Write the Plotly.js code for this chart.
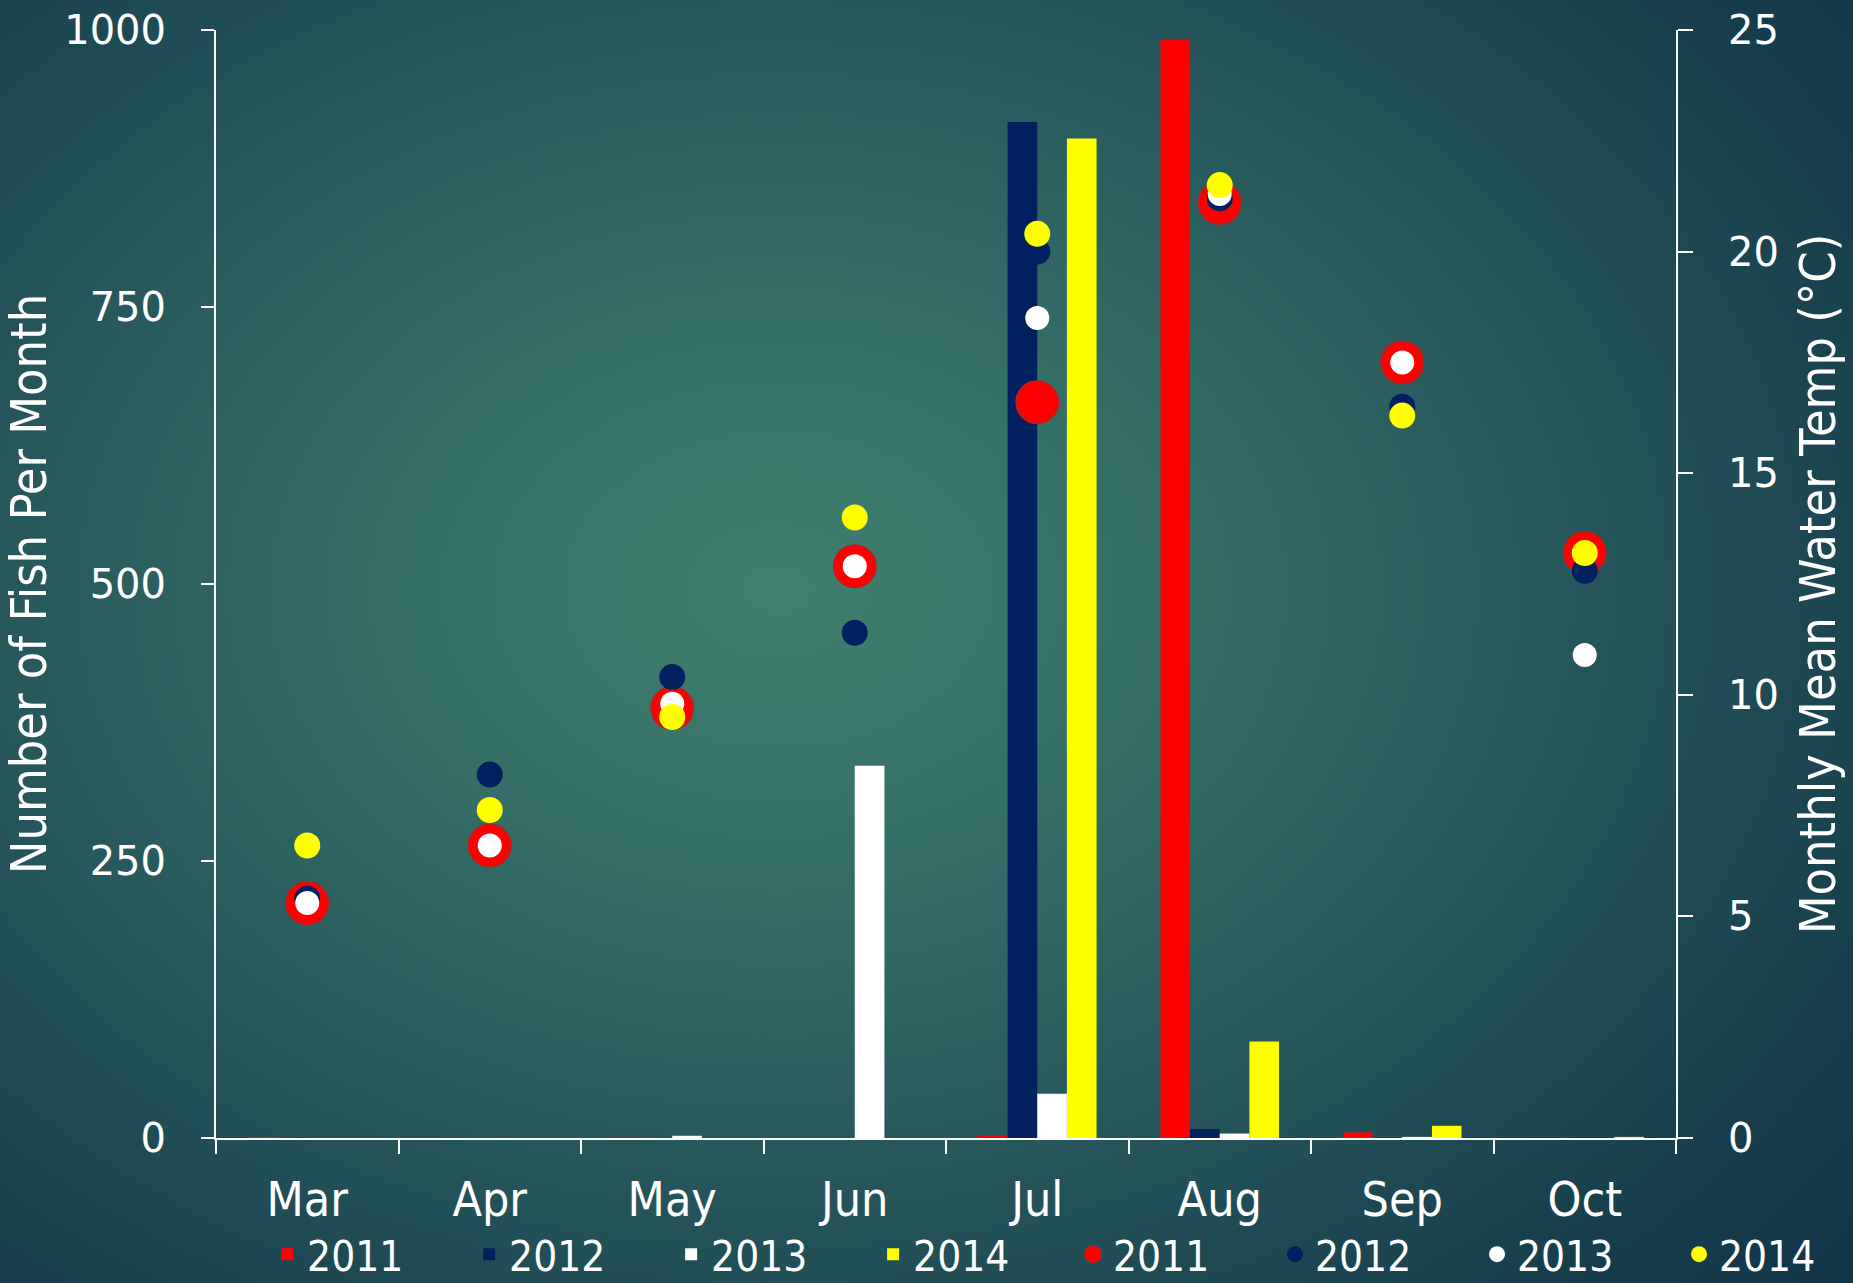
<!DOCTYPE html>
<html>
<head>
<meta charset="utf-8">
<script src="https://cdn.plot.ly/plotly-3.0.1.min.js"></script>
<style>
  html, body { margin: 0; padding: 0; }
  body {
    width: 1853px; height: 1283px; overflow: hidden;
    background: radial-gradient(ellipse 75% 80% at 42% 46%, #40806f 0%, #336d66 30%, #24545a 60%, #173f4d 85%, #12364a 100%);
  }
  #chart { width: 1853px; height: 1283px; }
</style>
</head>
<body>
<div id="chart"></div>
<script>
// ---- data ----
const months = ["Mar", "Apr", "May", "Jun", "Jul", "Aug", "Sep", "Oct"];
const years = ["2011", "2012", "2013", "2014"];

// Number of fish per month (bars, left axis)
const fish2011 = [1, 0, 1, 0, 2, 991, 5, 0];
const fish2012 = [0, 0, 0, 0, 917, 8, 0, 0];
const fish2013 = [0, 0, 2, 336, 40, 4, 1, 0];
const fish2014 = [0, 0, 0, 0, 902, 87, 11, 1];

// Monthly mean water temperature, °C (markers, right axis)
const temp2011 = [5.3, 6.6, 9.7, 12.9, 16.6, 21.1, 17.5, 13.2];
const temp2012 = [5.4, 8.2, 10.4, 11.4, 20.0, 21.2, 16.5, 12.8];
const temp2013 = [5.3, 6.6, 9.8, 12.9, 18.5, 21.3, 17.5, 10.9];
const temp2014 = [6.6, 7.4, 9.5, 14.0, 20.4, 21.5, 16.3, 13.2];

const yLeftTicks = [0, 250, 500, 750, 1000];
const yRightTicks = [0, 5, 10, 15, 20, 25];

// ---- styles ----
const colors = ["#ff0000", "#002060", "#ffffff", "#ffff00"];
const condFont = "DejaVu Sans Condensed, Liberation Sans Narrow, DejaVu Sans, sans-serif";
const numFont = "DejaVu Sans, sans-serif";

const fishSeries = [fish2011, fish2012, fish2013, fish2014];
const tempSeries = [temp2011, temp2012, temp2013, temp2014];
const markerSizes = [42, 26, 24, 26];

const traces = [];
fishSeries.forEach((vals, i) => {
  traces.push({
    type: "bar", x: months, y: vals, name: years[i],
    marker: { color: colors[i], line: { width: 0 } },
    yaxis: "y", legend: "legend"
  });
});
tempSeries.forEach((vals, i) => {
  traces.push({
    type: "scatter", mode: "markers", x: months, y: vals, name: years[i],
    marker: {
      color: colors[i], size: markerSizes[i],
      line: i === 0 ? { color: "#c81818", width: 2 } : { width: 0 }
    },
    yaxis: "y2", legend: "legend2"
  });
});

const axisCommon = {
  showgrid: false, zeroline: false, showline: true,
  linecolor: "#ffffff", linewidth: 2,
  ticks: "outside", tickcolor: "#ffffff", tickwidth: 2
};

const legendCommon = {
  orientation: "h", xanchor: "left", y: -0.105, yanchor: "middle",
  font: { family: condFont, size: 42, color: "#ffffff" },
  entrywidth: 157, entrywidthmode: "pixels",
  traceorder: "normal", bgcolor: "rgba(0,0,0,0)"
};

const layout = {
  width: 1853, height: 1283,
  paper_bgcolor: "rgba(0,0,0,0)", plot_bgcolor: "rgba(0,0,0,0)",
  margin: { l: 216, r: 177, t: 30, b: 145, autoexpand: false },
  barmode: "group", bargap: 0.35, bargroupgap: 0,
  showlegend: true,
  legend: Object.assign({}, legendCommon, { x: 0.035 }),
  legend2: Object.assign({}, legendCommon, { x: 0.587 }),
  xaxis: Object.assign({}, axisCommon, {
    type: "category", tickson: "boundaries", ticklen: 14,
    range: [-0.5, 7.5], autorange: false,
    tickfont: { family: condFont, size: 48, color: "#ffffff" },
    ticklabelstandoff: 18
  }),
  yaxis: Object.assign({}, axisCommon, {
    range: [0, 1000], tickvals: yLeftTicks, ticklen: 13,
    tickfont: { family: numFont, size: 40, color: "#ffffff" },
    ticklabelstandoff: 27,
    title: { text: "Number of Fish Per Month", standoff: 20,
             font: { family: condFont, size: 50, color: "#ffffff" } }
  }),
  yaxis2: Object.assign({}, axisCommon, {
    overlaying: "y", side: "right",
    range: [0, 25], tickvals: yRightTicks, ticklen: 15,
    tickfont: { family: numFont, size: 40, color: "#ffffff" },
    ticklabelstandoff: 27,
    title: { text: "Monthly Mean Water Temp (°C)", standoff: 22,
             font: { family: condFont, size: 50, color: "#ffffff" } }
  })
};

Plotly.newPlot("chart", traces, layout, { staticPlot: true, displayModeBar: false });
</script>
</body>
</html>
